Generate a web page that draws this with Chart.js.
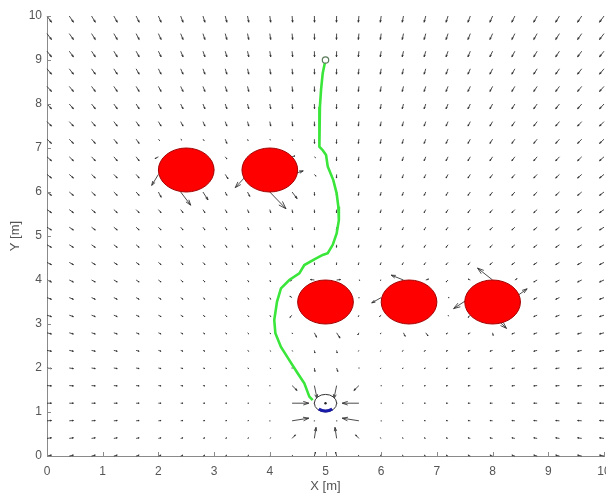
<!DOCTYPE html>
<html><head><meta charset="utf-8">
<script src="https://cdn.jsdelivr.net/npm/chart.js@4.4.0/dist/chart.umd.min.js"></script>
<style>html,body{margin:0;padding:0;background:#fff;overflow:hidden}#wrap{width:606px;height:494px}</style>
</head><body><div id="wrap"><canvas id="c" width="606" height="494"></canvas></div>
<script>
// ---- data ----
const gridX = [0,0.4,0.8,1.2,1.6,2,2.4,2.8,3.2,3.6,4,4.4,4.8,5.2,5.6,6,6.4,6.8,7.2,7.6,8,8.4,8.8,9.2,9.6,10];
const gridY = [0,0.4,0.8,1.2,1.6,2,2.4,2.8,3.2,3.6,4,4.4,4.8,5.2,5.6,6,6.4,6.8,7.2,7.6,8,8.4,8.8,9.2,9.6,10];
// horizontal component of the field arrows, per column (data units)
const colU = [0.080,0.074,0.067,0.061,0.054,0.048,0.042,0.035,0.029,0.022,0.016,0.010,0.003,-0.003,-0.010,-0.016,-0.022,-0.029,-0.035,-0.042,-0.048,-0.054,-0.061,-0.067,-0.074,-0.080];
// vertical component of the field arrows, per row (data units)
const rowV = [0.019,0.013,0.006,0,-0.006,-0.013,-0.019,-0.026,-0.032,-0.038,-0.045,-0.051,-0.058,-0.064,-0.070,-0.077,-0.083,-0.090,-0.096,-0.102,-0.109,-0.115,-0.122,-0.128,-0.134,-0.141];
// arrows changed by the obstacles and by the goal: [x, y, u, v]
const localArrows = [
  [2.0,7.2,0.02,-0.03],[2.4,7.2,0.02,-0.02],[2.8,7.2,0.02,-0.03],
  [2.0,6.8,-0.06,-0.04],[2.0,6.4,-0.12,-0.25],[2.0,6.0,0.05,-0.12],
  [2.4,6.0,0.18,-0.30],[2.8,6.0,0.09,-0.18],[3.2,6.4,0.05,-0.10],[3.2,6.8,0.03,-0.05],
  [3.6,7.2,0.01,-0.03],[4.0,7.2,0.01,-0.02],[4.4,7.2,0.01,-0.03],
  [3.6,6.4,-0.22,-0.30],[3.6,6.0,0.04,-0.10],[4.0,6.0,0.29,-0.38],[4.4,6.0,0.09,-0.15],
  [4.4,6.4,0.20,0.08],[4.8,6.4,0.03,-0.04],[4.8,6.8,0.02,-0.02],[4.4,6.8,0.05,0.02],
  [4.8,4.0,-0.07,0.01],[5.2,4.0,0.07,0.01],[4.4,3.6,-0.04,0.03],[4.4,3.2,-0.04,-0.05],
  [4.8,2.8,0.04,-0.10],[5.2,2.8,0.06,-0.12],[5.6,2.8,-0.02,-0.05],[5.6,3.6,0.01,0.0],
  [5.6,4.0,0.02,-0.01],[4.4,4.0,-0.03,-0.02],
  [6.4,4.0,-0.22,0.11],[6.0,3.6,-0.17,-0.12],[6.8,4.0,0.05,0.02],[6.0,4.0,-0.02,-0.01],
  [6.0,3.2,-0.03,-0.03],[6.4,2.8,0.03,-0.08],[6.8,2.8,0.04,-0.07],[7.2,3.6,0.02,0.0],[7.2,3.2,0.01,-0.02],
  [8.0,4.0,-0.27,0.27],[7.6,3.6,-0.30,-0.25],[8.4,3.6,0.22,0.20],[8.0,3.2,0.25,-0.30],
  [8.0,2.8,0.01,-0.06],[7.6,3.2,-0.04,-0.05],[8.4,4.0,0.04,0.03],[7.6,4.0,-0.04,0.02],
  [4.4,1.2,0.30,0.0],[5.6,1.2,-0.30,0.0],[4.4,0.8,0.30,0.06],[5.6,0.8,-0.30,0.06],
  [4.8,1.6,0.05,-0.30],[5.2,1.6,-0.05,-0.30],[4.8,0.4,0.03,0.25],[5.2,0.4,-0.03,0.25],
  [4.4,1.6,0.09,-0.11],[5.6,1.6,-0.09,-0.11],[4.4,0.4,0.06,0.08],[5.6,0.4,-0.06,0.08],
  [4.8,1.2,0,0],[5.2,1.2,0,0],[4.8,0.8,0,0],[5.2,0.8,0,0],
  [4.8,2.0,0.01,-0.08],[5.2,2.0,0.02,-0.08],[4.8,2.4,0.01,-0.06],[5.2,2.4,0.01,-0.06],
  [4.8,0.0,0.02,0.09],[5.2,0.0,-0.02,0.09]
];
const obstacleX = [2.5,4.0,5.0,6.5,8.0];
const obstacleY = [6.5,6.5,3.5,3.5,3.5];
const obstacleR = [0.5,0.5,0.5,0.5,0.5];
const pathX = [5.00,4.95,4.92,4.90,4.89,4.89,4.95,5.01,5.04,5.14,5.20,5.23,5.24,5.20,5.13,5.04,4.95,4.80,4.62,4.53,4.35,4.20,4.13,4.08,4.10,4.20,4.35,4.50,4.62,4.71,4.77];
const pathY = [9.00,8.70,8.32,7.94,7.48,7.03,6.95,6.84,6.58,6.27,5.97,5.67,5.36,5.06,4.80,4.61,4.57,4.47,4.34,4.15,4.00,3.81,3.51,3.09,2.79,2.48,2.18,1.88,1.65,1.35,1.27];
const startPoint = [5.0, 9.0];
const robotPoint = [5.0, 1.2];
const robotRadius = 0.2;
const xTickLabels = ['0','1','2','3','4','5','6','7','8','9','10'];
const yTickLabels = ['0','1','2','3','4','5','6','7','8','9','10'];

// ---- build tables ----
const localMap = new Map();
localArrows.forEach(a => localMap.set(a[0].toFixed(1)+','+a[1].toFixed(1), a));
const quiverData = [];
gridY.forEach((y, i) => {
  gridX.forEach((x, j) => {
    const k = x.toFixed(1)+','+y.toFixed(1);
    const o = localMap.get(k);
    quiverData.push(o ? {x, y, u:o[2], v:o[3]} : {x, y, u:colU[j], v:rowV[i]});
  });
});
const pathData = pathX.map((x, i) => ({x, y: pathY[i]}));

const AXIS_COLOR = '#8a8a8a';
const TEXT_COLOR = '#555555';
const FONT = 'Liberation Sans, Arial, Helvetica, sans-serif';

function drawArrow(ctx, x0, y0, x1, y1) {
  const dx = x1 - x0, dy = y1 - y0;
  const L = Math.hypot(dx, dy);
  if (L < 1) { ctx.fillRect(x0 - 0.6, y0 - 0.6, 1.3, 1.3); return; }
  const ux = dx / L, uy = dy / L;
  const hl = 0.33 * L, hw = 0.33 * hl;
  const bx = x1 - ux * hl, by = y1 - uy * hl;
  ctx.beginPath();
  ctx.moveTo(x0, y0); ctx.lineTo(x1, y1);
  ctx.moveTo(bx - uy * hw, by + ux * hw); ctx.lineTo(x1, y1); ctx.lineTo(bx + uy * hw, by - ux * hw);
  ctx.stroke();
}

const fieldPlugin = {
  id: 'field',
  beforeDatasetsDraw(chart) {
    const ctx = chart.ctx, xs = chart.scales.x, ys = chart.scales.y;
    ctx.save();
    ctx.strokeStyle = 'rgba(45,45,45,0.85)';
    ctx.fillStyle = 'rgba(45,45,45,0.7)';
    ctx.lineWidth = 1;
    quiverData.forEach(p => {
      drawArrow(ctx, xs.getPixelForValue(p.x), ys.getPixelForValue(p.y),
        xs.getPixelForValue(p.x + p.u), ys.getPixelForValue(p.y + p.v));
    });
    // obstacles
    obstacleX.forEach((cx, i) => {
      const px = xs.getPixelForValue(cx), py = ys.getPixelForValue(obstacleY[i]);
      const rx = xs.getPixelForValue(cx + obstacleR[i]) - px;
      const ry = py - ys.getPixelForValue(obstacleY[i] + obstacleR[i]);
      ctx.beginPath();
      ctx.ellipse(px, py, rx, ry, 0, 0, Math.PI * 2);
      ctx.fillStyle = '#ff0000';
      ctx.fill();
      ctx.strokeStyle = '#a30000';
      ctx.lineWidth = 1;
      ctx.stroke();
    });
    // inward axis ticks
    ctx.strokeStyle = AXIS_COLOR;
    ctx.lineWidth = 1;
    const left = chart.chartArea.left, bottom = chart.chartArea.bottom;
    xTickLabels.forEach(t => {
      const px = Math.round(xs.getPixelForValue(Number(t))) + 0.5;
      ctx.beginPath(); ctx.moveTo(px, bottom); ctx.lineTo(px, bottom - 4); ctx.stroke();
    });
    yTickLabels.forEach(t => {
      const py = Math.round(ys.getPixelForValue(Number(t))) + 0.5;
      ctx.beginPath(); ctx.moveTo(left, py); ctx.lineTo(left + 4, py); ctx.stroke();
    });
    ctx.restore();
  },
  afterDatasetsDraw(chart) {
    const ctx = chart.ctx, xs = chart.scales.x, ys = chart.scales.y;
    ctx.save();
    // start marker
    const sx = xs.getPixelForValue(startPoint[0]), sy = ys.getPixelForValue(startPoint[1]);
    ctx.beginPath(); ctx.arc(sx, sy, 3.2, 0, Math.PI * 2);
    ctx.fillStyle = '#ffffff'; ctx.fill();
    ctx.strokeStyle = '#5b7b5b'; ctx.lineWidth = 1.2; ctx.stroke();
    // robot
    const rx0 = xs.getPixelForValue(robotPoint[0]), ry0 = ys.getPixelForValue(robotPoint[1]);
    const rrx = xs.getPixelForValue(robotPoint[0] + robotRadius) - rx0;
    const rry = ry0 - ys.getPixelForValue(robotPoint[1] + robotRadius);
    ctx.beginPath(); ctx.ellipse(rx0, ry0, rrx, rry, 0, 0, Math.PI * 2);
    ctx.fillStyle = '#ffffff'; ctx.fill();
    ctx.strokeStyle = '#333333'; ctx.lineWidth = 1; ctx.stroke();
    ctx.beginPath(); ctx.ellipse(rx0, ry0, rrx - 1, rry - 1, 0, Math.PI * 0.27, Math.PI * 0.73);
    ctx.strokeStyle = '#1a1aa8'; ctx.lineWidth = 3; ctx.stroke();
    ctx.beginPath(); ctx.arc(rx0, ry0, 1.2, 0, Math.PI * 2);
    ctx.fillStyle = '#222'; ctx.fill();
    ctx.restore();
  }
};

new Chart(document.getElementById('c'), {
  type: 'scatter',
  data: {
    datasets: [{
      label: 'path',
      data: pathData,
      showLine: true,
      borderColor: '#3ae63a',
      borderWidth: 2.6,
      pointRadius: 0,
      tension: 0,
      fill: false
    }]
  },
  options: {
    responsive: false,
    animation: false,
    events: [],
    layout: { padding: { top: 16, right: 2, left: 0, bottom: 0 } },
    plugins: { legend: { display: false }, tooltip: { enabled: false } },
    scales: {
      x: {
        type: 'linear', min: 0, max: 10,
        grid: { display: false, drawTicks: false },
        border: { display: true, color: AXIS_COLOR, width: 1 },
        ticks: { stepSize: 1, padding: 8, color: TEXT_COLOR, font: { family: FONT, size: 12 },
          maxRotation: 0, autoSkip: false,
          callback: (v) => xTickLabels[Math.round(v)] },
        title: { display: true, text: 'X [m]', color: TEXT_COLOR, font: { family: FONT, size: 13 }, padding: { top: 0, bottom: 0 } },
        afterFit: (s) => { s.height = 38; s.paddingLeft = 0; s.paddingRight = 0; }
      },
      y: {
        type: 'linear', min: 0, max: 10,
        grid: { display: false, drawTicks: false },
        border: { display: true, color: AXIS_COLOR, width: 1 },
        ticks: { stepSize: 1, padding: 5, color: TEXT_COLOR, font: { family: FONT, size: 12 },
          autoSkip: false,
          callback: (v) => yTickLabels[Math.round(v)] },
        title: { display: true, text: 'Y [m]', color: TEXT_COLOR, font: { family: FONT, size: 13 }, padding: { top: 8, bottom: 0 } },
        afterFit: (s) => { s.width = 47; s.paddingTop = 0; s.paddingBottom = 0; }
      }
    }
  },
  plugins: [fieldPlugin]
});
</script>
</body></html>
